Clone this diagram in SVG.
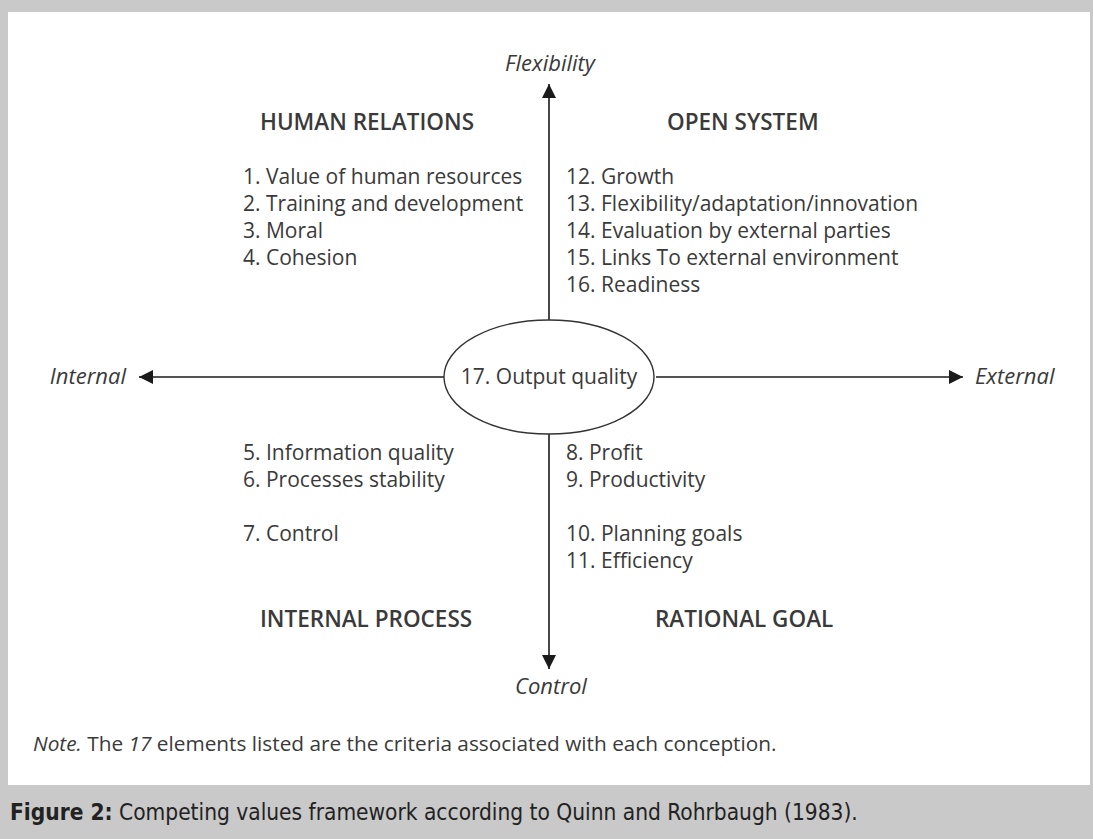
<svg xmlns="http://www.w3.org/2000/svg" width="1093" height="839" viewBox="0 0 1093 839">
  <defs>
    <marker id="arrow" viewBox="0 0 10 10" refX="10" refY="5" markerWidth="15" markerHeight="14" markerUnits="userSpaceOnUse" orient="auto">
      <path d="M0,0 L10,5 L0,10 Z" fill="#1a1a1a"/>
    </marker>
    <style>
      .txt { font-family: "Open Sans", "Lato", sans-serif; font-size: 21px; fill: #3a3a3a; }
      .head { font-family: "Open Sans", "Lato", sans-serif; font-size: 22.5px; font-weight: 600; fill: #3a3a3a; }
      .pole { font-family: "Open Sans", "Lato", sans-serif; font-size: 22px; font-style: italic; fill: #3a3a3a; }
      .note { font-family: "Open Sans", "Lato", sans-serif; font-size: 20.8px; fill: #3a3a3a; }
      .axis { stroke: #1a1a1a; stroke-width: 1.6; fill: none; }
      .caption { font-family: "DejaVu Sans Condensed", "Liberation Sans", sans-serif; font-size: 22.5px; fill: #222; }
    </style>
  </defs>

  <!-- page background and framed panel -->
  <rect x="0" y="0" width="1093" height="839" fill="#c9c9c9"/>
  <rect x="8" y="12" width="1082" height="773" fill="#ffffff"/>

  <!-- axes -->
  <g id="connectors">
    <line class="axis" x1="549" y1="320" x2="549" y2="84" marker-end="url(#arrow)"/>
    <line class="axis" x1="549" y1="434" x2="549" y2="669" marker-end="url(#arrow)"/>
    <line class="axis" x1="444" y1="377" x2="139" y2="377" marker-end="url(#arrow)"/>
    <line class="axis" x1="656" y1="377" x2="963" y2="377" marker-end="url(#arrow)"/>
  </g>

  <!-- pole labels -->
  <g id="pole-flexibility"><text class="pole" x="550" y="71" text-anchor="middle">Flexibility</text></g>
  <g id="pole-control"><text class="pole" x="551" y="694" text-anchor="middle">Control</text></g>
  <g id="pole-internal"><text class="pole" x="126" y="384" text-anchor="end">Internal</text></g>
  <g id="pole-external"><text class="pole" x="975" y="384">External</text></g>

  <!-- centre -->
  <g id="center">
    <ellipse cx="549" cy="377" rx="105" ry="57" fill="#ffffff" stroke="#333" stroke-width="1.4"/>
    <text class="txt" x="549" y="384" text-anchor="middle">17. Output quality</text>
  </g>

  <!-- quadrant: human relations -->
  <g id="human-relations">
    <text class="head" x="260" y="130">HUMAN RELATIONS</text>
    <text class="txt" x="243" y="184">1. Value of human resources</text>
    <text class="txt" x="243" y="211">2. Training and development</text>
    <text class="txt" x="243" y="238">3. Moral</text>
    <text class="txt" x="243" y="265">4. Cohesion</text>
  </g>

  <!-- quadrant: open system -->
  <g id="open-system">
    <text class="head" x="667" y="130">OPEN SYSTEM</text>
    <text class="txt" x="566" y="184">12. Growth</text>
    <text class="txt" x="566" y="211">13. Flexibility/adaptation/innovation</text>
    <text class="txt" x="566" y="238">14. Evaluation by external parties</text>
    <text class="txt" x="566" y="265">15. Links To external environment</text>
    <text class="txt" x="566" y="292">16. Readiness</text>
  </g>

  <!-- quadrant: internal process -->
  <g id="internal-process">
    <text class="txt" x="243" y="460">5. Information quality</text>
    <text class="txt" x="243" y="487">6. Processes stability</text>
    <text class="txt" x="243" y="541">7. Control</text>
    <text class="head" x="260" y="627">INTERNAL PROCESS</text>
  </g>

  <!-- quadrant: rational goal -->
  <g id="rational-goal">
    <text class="txt" x="566" y="460">8. Profit</text>
    <text class="txt" x="566" y="487">9. Productivity</text>
    <text class="txt" x="566" y="541">10. Planning goals</text>
    <text class="txt" x="566" y="568">11. Efficiency</text>
    <text class="head" x="655" y="627">RATIONAL GOAL</text>
  </g>

  <!-- note and caption -->
  <g id="note">
    <text class="note" x="33" y="751"><tspan font-style="italic">Note.</tspan> The <tspan font-style="italic">17</tspan> elements listed are the criteria associated with each conception.</text>
  </g>
  <g id="caption">
    <text class="caption" x="10" y="820"><tspan font-weight="bold">Figure 2:</tspan> Competing values framework according to Quinn and Rohrbaugh (1983).</text>
  </g>
</svg>
